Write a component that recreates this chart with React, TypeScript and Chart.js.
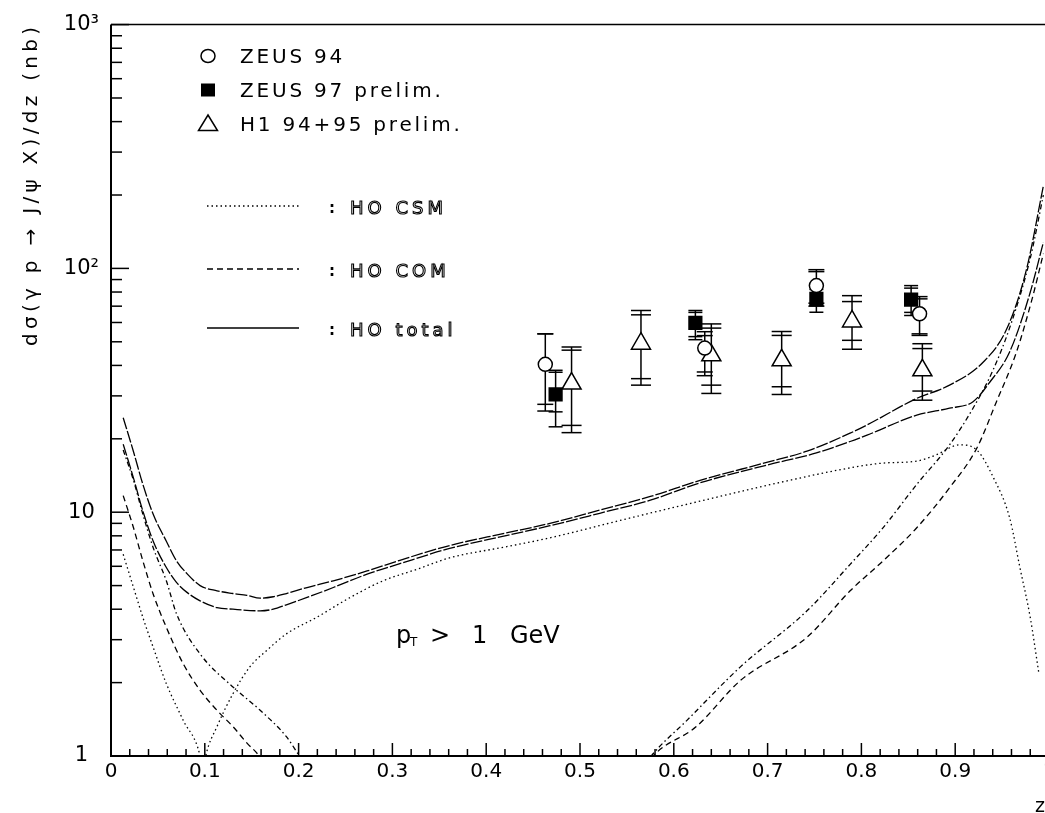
import React, { useEffect, useRef } from 'react';
import { Chart, registerables } from 'chart.js';

Chart.register(...registerables);

const CANVAS_W = 1070;
const CANVAS_H = 813;

// ---- axis ticks ----
const xTickValues = [0, 0.1, 0.2, 0.3, 0.4, 0.5, 0.6, 0.7, 0.8, 0.9, 1];
const yTickValues = [1, 10, 100, 1000];
const yTickLabels = ['1', '10', '10²', '10³'];

// ---- theory curves (z, dσ/dz in nb) ----
const totalAZ = [0.013, 0.024, 0.034, 0.045, 0.059, 0.070, 0.081, 0.095, 0.113, 0.130, 0.145, 0.159, 0.173, 0.187, 0.209, 0.237, 0.273, 0.308, 0.361, 0.42, 0.468, 0.521, 0.575, 0.628, 0.699, 0.742, 0.788, 0.806, 0.859, 0.894, 0.930, 0.955, 0.976, 0.994];
const totalAY = [24.4, 17.7, 13.0, 9.8, 7.6, 6.3, 5.6, 5.0, 4.76, 4.64, 4.56, 4.44, 4.5, 4.64, 4.91, 5.23, 5.74, 6.35, 7.3, 8.2, 9.0, 10.2, 11.6, 13.5, 16.0, 17.8, 21.1, 22.8, 29.3, 33.2, 41.3, 56.5, 99, 218];

const totalBZ = [0.013, 0.024, 0.034, 0.045, 0.059, 0.070, 0.081, 0.095, 0.113, 0.130, 0.159, 0.173, 0.187, 0.209, 0.237, 0.273, 0.308, 0.361, 0.42, 0.468, 0.521, 0.575, 0.628, 0.699, 0.752, 0.788, 0.806, 0.859, 0.894, 0.919, 0.937, 0.958, 0.980, 0.994];
const totalBY = [19.0, 13.8, 10.1, 7.6, 5.93, 5.14, 4.69, 4.33, 4.06, 4.0, 3.94, 4.0, 4.17, 4.47, 4.91, 5.57, 6.15, 7.1, 8.0, 8.8, 9.9, 11.2, 13.2, 15.6, 17.5, 19.5, 20.7, 25.0, 26.7, 28.4, 34.2, 45.4, 79.8, 128];

const comAZ = [0.013, 0.024, 0.034, 0.045, 0.059, 0.077, 0.095, 0.113, 0.130, 0.145, 0.158, 0.165, 0.35, 0.570, 0.578, 0.624, 0.671, 0.742, 0.788, 0.823, 0.859, 0.894, 0.923, 0.944, 0.965, 0.982, 0.994];
const comAY = [11.7, 8.63, 6.31, 4.61, 3.37, 2.39, 1.86, 1.54, 1.32, 1.13, 1.0, 0.9, null, 0.9, 1.0, 1.32, 2.04, 3.07, 4.76, 6.31, 8.63, 12.6, 18.3, 28.4, 45, 75, 115];

const comBZ = [0.013, 0.024, 0.034, 0.045, 0.059, 0.070, 0.095, 0.130, 0.159, 0.187, 0.201, 0.21, 0.35, 0.568, 0.576, 0.614, 0.671, 0.742, 0.788, 0.823, 0.859, 0.894, 0.919, 0.94, 0.96, 0.98, 0.994];
const comBY = [18.0, 13.5, 9.8, 7.15, 5.23, 3.82, 2.62, 1.92, 1.54, 1.20, 1.0, 0.9, null, 0.9, 1.0, 1.40, 2.32, 3.94, 6.11, 8.63, 13.0, 18.9, 26.7, 38, 60, 110, 200];

const csmZ = [0.013, 0.024, 0.034, 0.045, 0.059, 0.077, 0.095, 0.098, 0.101, 0.113, 0.130, 0.148, 0.166, 0.187, 0.219, 0.255, 0.29, 0.326, 0.361, 0.42, 0.468, 0.55, 0.628, 0.70, 0.784, 0.823, 0.859, 0.880, 0.905, 0.923, 0.941, 0.958, 0.969, 0.980, 0.989];
const csmY = [6.72, 4.91, 3.7, 2.79, 1.98, 1.40, 1.0, 0.85, 1.0, 1.32, 1.80, 2.32, 2.71, 3.17, 3.7, 4.47, 5.23, 5.83, 6.5, 7.2, 7.85, 9.4, 11.1, 12.9, 15.1, 15.9, 16.2, 17.2, 18.9, 18.0, 13.8, 9.5, 5.93, 3.7, 2.21];

// ---- data points ----
const zeus94Z = [0.463, 0.633, 0.752, 0.862];
const zeus94Y = [40.4, 47.1, 85.0, 65.1];
const zeus94StatLo = [27.7, 37.6, 72, 53.9];
const zeus94StatHi = [53.9, 53, 97, 75];
const zeus94TotLo = [26.0, 36.3, 70, 53.1];
const zeus94TotHi = [53.9, 55, 98.8, 76.6];

const zeus97Z = [0.474, 0.623, 0.752, 0.853];
const zeus97Y = [30.4, 59.8, 75.0, 74.5];
const zeus97StatLo = [25.8, 52.5, 70.4, 66];
const zeus97StatHi = [37.5, 66, 82, 83];
const zeus97TotLo = [22.4, 51.0, 66.1, 64.1];
const zeus97TotHi = [38.2, 67.2, 85, 85.0];

const h1Z = [0.491, 0.565, 0.640, 0.715, 0.790, 0.865];
const h1Y = [33.7, 49.1, 44.0, 42.0, 60.6, 38.2];
const h1StatLo = [22.7, 35.3, 33.2, 32.7, 50.7, 31.4];
const h1StatHi = [46.2, 64.5, 56.9, 53.1, 73.1, 46.9];
const h1TotLo = [21.2, 33.2, 30.7, 30.4, 46.6, 28.8];
const h1TotHi = [47.6, 67.2, 59.2, 55.1, 77.3, 49.1];

const legendPoints = ['ZEUS 94', 'ZEUS 97 prelim.', 'H1 94+95 prelim.'];
const legendCurves = ['HO CSM', 'HO COM', 'HO total'];
const yTitle = 'dσ(γ p → J/ψ X)/dz (nb)';
const xTitle = 'z';

const toXY = (zs: number[], ys: (number | null)[]) => zs.map((z, i) => ({ x: z, y: ys[i] }));

export default function App() {
  const ref = useRef<HTMLCanvasElement>(null);

  useEffect(() => {
    const canvas = ref.current;
    if (!canvas) return;

    const errSeries = [
      { z: zeus94Z, sLo: zeus94StatLo, sHi: zeus94StatHi, tLo: zeus94TotLo, tHi: zeus94TotHi, cap: 8 },
      { z: zeus97Z, sLo: zeus97StatLo, sHi: zeus97StatHi, tLo: zeus97TotLo, tHi: zeus97TotHi, cap: 7 },
      { z: h1Z, sLo: h1StatLo, sHi: h1StatHi, tLo: h1TotLo, tHi: h1TotHi, cap: 10 },
    ];

    const line = (ctx: CanvasRenderingContext2D, x1: number, y1: number, x2: number, y2: number) => {
      ctx.beginPath();
      ctx.moveTo(x1, y1);
      ctx.lineTo(x2, y2);
      ctx.stroke();
    };

    const plugin = {
      id: 'hepDecor',
      beforeDatasetsDraw(chart: any) {
        const { ctx } = chart;
        const xs = chart.scales.x;
        const ys = chart.scales.y;
        ctx.save();
        ctx.strokeStyle = '#000';
        ctx.lineWidth = 1.5;
        for (const s of errSeries) {
          s.z.forEach((z: number, i: number) => {
            const px = xs.getPixelForValue(z);
            line(ctx, px, ys.getPixelForValue(s.tHi[i]), px, ys.getPixelForValue(s.tLo[i]));
            for (const v of [s.sLo[i], s.sHi[i], s.tLo[i], s.tHi[i]]) {
              const py = ys.getPixelForValue(v);
              line(ctx, px - s.cap, py, px + s.cap, py);
            }
          });
        }
        ctx.restore();
      },
      afterDraw(chart: any) {
        const { ctx, chartArea } = chart;
        const { left, right, top, bottom } = chartArea;
        const xs = chart.scales.x;
        const ys = chart.scales.y;
        ctx.save();
        ctx.strokeStyle = '#000';
        ctx.fillStyle = '#000';

        // frame
        ctx.lineWidth = 2;
        line(ctx, left, top, left, bottom + 1);
        line(ctx, left - 1, bottom, right, bottom);
        ctx.lineWidth = 1.5;
        line(ctx, left, top, right, top);

        // x ticks (inside)
        ctx.lineWidth = 1.5;
        for (let i = 0; i <= 50; i++) {
          const px = xs.getPixelForValue(i * 0.02);
          const len = i % 5 === 0 ? 13 : 7;
          line(ctx, px, bottom, px, bottom - len);
        }
        // y ticks (inside)
        for (const d of [1, 10, 100]) {
          for (let m = 1; m <= 9; m++) {
            const py = ys.getPixelForValue(d * m);
            const len = m === 1 ? 18 : 11;
            line(ctx, left, py, left + len, py);
          }
        }
        line(ctx, left, ys.getPixelForValue(1000), left + 18, ys.getPixelForValue(1000));

        // y title
        ctx.save();
        ctx.font = '20px "DejaVu Sans"';
        (ctx as any).letterSpacing = '4.3px';
        ctx.textBaseline = 'middle';
        ctx.textAlign = 'left';
        ctx.translate(32, 346);
        ctx.rotate(-Math.PI / 2);
        ctx.fillText(yTitle, 0, 0);
        ctx.restore();

        // x title
        ctx.font = '19px "DejaVu Sans"';
        ctx.textAlign = 'left';
        ctx.textBaseline = 'alphabetic';
        ctx.fillText(xTitle, 1035, 812);

        // legend: data points
        const lx = 208;
        const rows = [56, 90, 124];
        ctx.lineWidth = 1.5;
        ctx.beginPath();
        ctx.ellipse(lx, rows[0], 7, 6.5, 0, 0, Math.PI * 2);
        ctx.stroke();
        ctx.fillRect(lx - 7, rows[1] - 6.5, 14, 13);
        ctx.beginPath();
        ctx.moveTo(lx, rows[2] - 9);
        ctx.lineTo(lx + 9.5, rows[2] + 6.5);
        ctx.lineTo(lx - 9.5, rows[2] + 6.5);
        ctx.closePath();
        ctx.stroke();

        ctx.save();
        ctx.font = '20px "DejaVu Sans"';
        (ctx as any).letterSpacing = '2.8px';
        ctx.textBaseline = 'alphabetic';
        legendPoints.forEach((t, i) => ctx.fillText(t, 240, rows[i] + 7));
        ctx.restore();

        // legend: curves
        const cRows = [206, 269, 328];
        const dashes = [[1.5, 3], [6, 4], []];
        ctx.lineWidth = 1.3;
        cRows.forEach((yy, i) => {
          ctx.setLineDash(dashes[i]);
          line(ctx, 207, yy, 299, yy);
        });
        ctx.setLineDash([]);
        ctx.save();
        ctx.font = 'bold 15px "DejaVu Sans"';
        cRows.forEach((yy) => ctx.fillText(':', 329, yy + 7));
        ctx.font = '18px "DejaVu Sans"';
        (ctx as any).letterSpacing = '4px';
        ctx.lineWidth = 1.1;
        legendCurves.forEach((t, i) => ctx.strokeText(t, 350, cRows[i] + 8));
        ctx.restore();

        // p_T > 1 GeV
        ctx.font = '24px "DejaVu Sans"';
        ctx.textBaseline = 'alphabetic';
        ctx.fillText('p', 396, 643);
        ctx.font = '12px "DejaVu Sans"';
        ctx.fillText('T', 410, 646);
        ctx.font = '24px "DejaVu Sans"';
        ctx.fillText('>', 430, 643);
        ctx.fillText('1', 472, 643);
        ctx.fillText('GeV', 510, 643);

        ctx.restore();
      },
    };

    const curve = (label: string, zs: number[], ys: (number | null)[], dash: number[], width: number) => ({
      type: 'line' as const,
      label,
      data: toXY(zs, ys),
      borderColor: '#000',
      borderWidth: width,
      borderDash: dash,
      pointRadius: 0,
      fill: false,
      spanGaps: false,
      cubicInterpolationMode: 'monotone' as const,
    });

    const points = (label: string, zs: number[], ys: number[], style: string, r: number, bg: string) => ({
      type: 'scatter' as const,
      label,
      data: toXY(zs, ys),
      pointStyle: style,
      pointRadius: r,
      pointBackgroundColor: bg,
      pointBorderColor: '#000',
      pointBorderWidth: 1.5,
      showLine: false,
    });

    const chart = new Chart(canvas, {
      type: 'scatter',
      data: {
        datasets: [
          curve('HO total (a)', totalAZ, totalAY, [12, 2], 1.3),
          curve('HO total (b)', totalBZ, totalBY, [12, 2], 1.3),
          curve('HO COM (a)', comAZ, comAY, [6, 4], 1.3),
          curve('HO COM (b)', comBZ, comBY, [5, 3, 1.5, 3], 1.3),
          curve('HO CSM', csmZ, csmY, [1.5, 3], 1.3),
          points('ZEUS 94', zeus94Z, zeus94Y, 'circle', 7, '#fff'),
          points('ZEUS 97 prelim.', zeus97Z, zeus97Y, 'rect', 9, '#000'),
          points('H1 94+95 prelim.', h1Z, h1Y, 'triangle', 11, '#fff'),
        ] as any,
      },
      options: {
        responsive: false,
        maintainAspectRatio: false,
        animation: false,
        devicePixelRatio: 1,
        layout: { padding: { left: 0, top: 22, right: CANVAS_W - 1049, bottom: 0 } },
        plugins: { legend: { display: false }, tooltip: { enabled: false }, title: { display: false } },
        events: [],
        scales: {
          x: {
            type: 'linear',
            min: 0,
            max: 1,
            grid: { display: false, drawTicks: false },
            border: { display: false },
            afterFit: (scale: any) => { scale.height = CANVAS_H - 756; },
            afterBuildTicks: (scale: any) => { scale.ticks = xTickValues.map((v) => ({ value: v })); },
            ticks: {
              color: '#000',
              padding: 4,
              maxRotation: 0,
              autoSkip: false,
              font: { family: 'DejaVu Sans', size: 20 },
              callback: (v: any) => String(Math.round(Number(v) * 10) / 10),
            },
          },
          y: {
            type: 'logarithmic',
            min: 1,
            max: 1000,
            grid: { display: false, drawTicks: false },
            border: { display: false },
            afterFit: (scale: any) => { scale.width = 111; },
            afterBuildTicks: (scale: any) => { scale.ticks = yTickValues.map((v) => ({ value: v })); },
            ticks: {
              color: '#000',
              padding: 12,
              crossAlign: 'center',
              autoSkip: false,
              font: { family: 'DejaVu Sans', size: 21 },
              callback: (v: any) => {
                const idx = yTickValues.indexOf(Number(v));
                return idx >= 0 ? yTickLabels[idx] : '';
              },
            },
          },
        },
      } as any,
      plugins: [plugin],
    });

    return () => chart.destroy();
  }, []);

  return (
    <div style={{ position: 'fixed', left: 0, top: 0, width: 1045, height: 813, overflow: 'hidden', background: '#fff' }}>
      <canvas ref={ref} width={CANVAS_W} height={CANVAS_H} style={{ display: 'block', width: CANVAS_W, height: CANVAS_H }} />
    </div>
  );
}
